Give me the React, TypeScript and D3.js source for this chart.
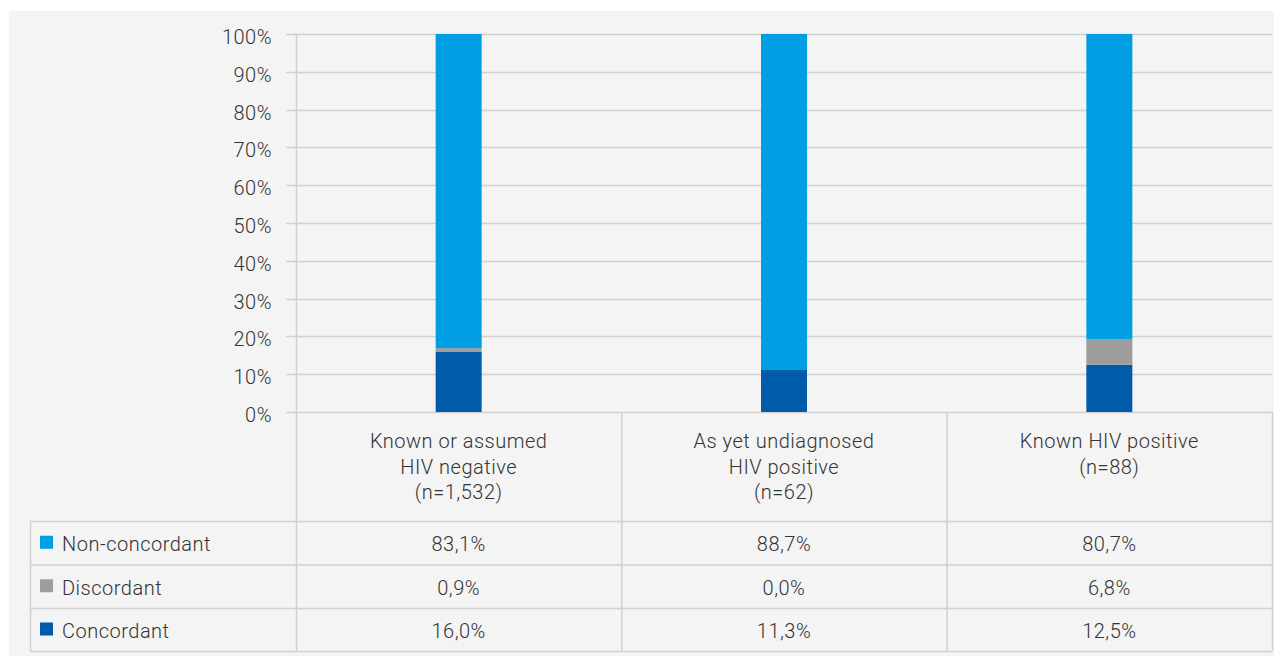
import React from "react";
import * as d3 from "d3";

const categories = [
  ["Known or assumed", "HIV negative", "(n=1,532)"],
  ["As yet undiagnosed", "HIV positive", "(n=62)"],
  ["Known HIV positive", "(n=88)"],
];
const seriesNames = ["Non-concordant", "Discordant", "Concordant"];
const seriesColors = ["#009fe3", "#9d9d9c", "#005ca9"];
const nonConcordant = [83.1, 88.7, 80.7];
const discordant = [0.9, 0.0, 6.8];
const concordant = [16.0, 11.3, 12.5];
const tableLabels = [
  ["83,1%", "88,7%", "80,7%"],
  ["0,9%", "0,0%", "6,8%"],
  ["16,0%", "11,3%", "12,5%"],
];
const yTicks = [0, 10, 20, 30, 40, 50, 60, 70, 80, 90, 100];

const W = 1282;
const H = 664;
const FONT = "Roboto, 'DejaVu Sans', sans-serif";
const TXT = "#333333";
const GRID = "#d0d0d0";
const FS = 20;
const LS = 0.5;

export default function App() {
  const plotLeft = 296;
  const plotRight = 1272;
  const x = d3
    .scaleBand<number>()
    .domain([0, 1, 2])
    .range([plotLeft, plotRight])
    .paddingInner(0)
    .paddingOuter(0);
  const y = d3.scaleLinear().domain([0, 100]).range([412, 34]);
  const barW = 46;

  const stackData = categories.map((_, i) => ({
    i,
    Concordant: concordant[i],
    Discordant: discordant[i],
    "Non-concordant": nonConcordant[i],
  }));
  const stack = d3
    .stack<any>()
    .keys(["Concordant", "Discordant", "Non-concordant"]);
  const layers = stack(stackData);
  const colorOf: Record<string, string> = {
    "Non-concordant": seriesColors[0],
    Discordant: seriesColors[1],
    Concordant: seriesColors[2],
  };

  const catTop = 412;
  const rowTops = [521, 564.5, 608];
  const tableBottom = 651;
  const legendLeft = 30;

  return (
    <div style={{ margin: "-8px" }}>
      <svg width={W} height={H} style={{ display: "block" }} fontFamily={FONT}>
        <rect x={0} y={0} width={W} height={H} fill="#ffffff" />
        <rect x={9} y={11} width={W - 9} height={652} fill="#f4f4f4" />

        {/* gridlines */}
        {yTicks.map((t) => (
          <g key={t}>
            <line
              x1={286}
              x2={plotRight}
              y1={Math.round(y(t)) + 0.5}
              y2={Math.round(y(t)) + 0.5}
              stroke={GRID}
              strokeWidth={1.5}
            />
            <text
              x={272}
              y={y(t) + 10}
              textAnchor="end"
              fontSize={FS}
              fontWeight={300}
              letterSpacing={LS}
              fill={TXT}
            >
              {t}%
            </text>
          </g>
        ))}

        {/* bars */}
        {layers.map((layer) =>
          layer.map((d, i) => (
            <rect
              key={layer.key + i}
              x={(x(i) as number) + x.bandwidth() / 2 - barW / 2}
              y={y(d[1])}
              width={barW}
              height={Math.max(0, y(d[0]) - y(d[1]))}
              fill={colorOf[layer.key]}
            />
          ))
        )}

        {/* table lines */}
        <line x1={plotLeft + 0.5} x2={plotLeft + 0.5} y1={34} y2={tableBottom} stroke={GRID} strokeWidth={1.5} />
        {[1, 2, 3].map((k) => {
          const xx = k < 3 ? (x(k) as number) : plotRight;
          return (
            <line key={k} x1={xx + 0.5} x2={xx + 0.5} y1={catTop} y2={tableBottom} stroke={GRID} strokeWidth={1.5} />
          );
        })}
        <line x1={legendLeft + 0.5} x2={legendLeft + 0.5} y1={rowTops[0]} y2={tableBottom} stroke={GRID} strokeWidth={1.5} />
        {[...rowTops, tableBottom].map((ry, k) => (
          <line key={k} x1={legendLeft} x2={plotRight} y1={ry + 0.5} y2={ry + 0.5} stroke={GRID} strokeWidth={1.5} />
        ))}

        {/* category labels */}
        {categories.map((lines, i) => (
          <text
            key={i}
            x={(x(i) as number) + x.bandwidth() / 2}
            textAnchor="middle"
            fontSize={FS}
            fontWeight={300}
            letterSpacing={LS}
            fill={TXT}
          >
            {lines.map((l, j) => (
              <tspan key={j} x={(x(i) as number) + x.bandwidth() / 2} y={448 + j * 25.5}>
                {l}
              </tspan>
            ))}
          </text>
        ))}

        {/* legend rows */}
        {seriesNames.map((name, r) => {
          const top = rowTops[r];
          const bottom = r < 2 ? rowTops[r + 1] : tableBottom;
          const cy = (top + bottom) / 2;
          return (
            <g key={name}>
              <rect x={40} y={cy - 7} width={13} height={13} fill={seriesColors[r]} />
              <text x={62} y={cy + 8.5} fontSize={FS} fontWeight={300} letterSpacing={LS} fill={TXT}>
                {name}
              </text>
              {tableLabels[r].map((v, i) => (
                <text
                  key={i}
                  x={(x(i) as number) + x.bandwidth() / 2}
                  y={cy + 8.5}
                  textAnchor="middle"
                  fontSize={FS}
                  fontWeight={300}
                  letterSpacing={LS}
                  fill={TXT}
                >
                  {v}
                </text>
              ))}
            </g>
          );
        })}
      </svg>
    </div>
  );
}
